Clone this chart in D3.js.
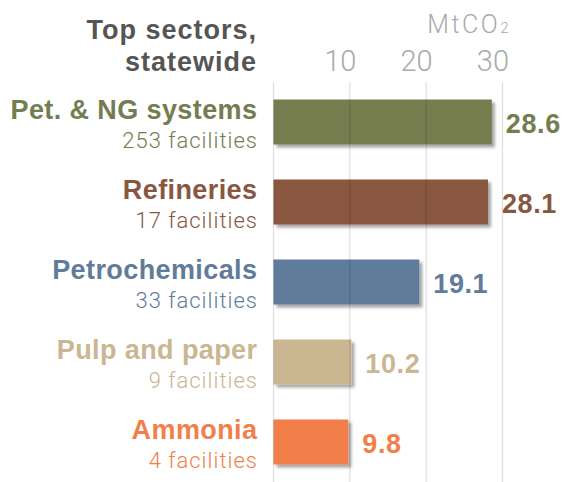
<!DOCTYPE html>
<html>
<head>
<meta charset="utf-8">
<script src="https://cdn.jsdelivr.net/npm/d3@7"></script>
<style>
  html, body { margin: 0; padding: 0; background: #fff; }
  svg { display: block; }
  .bold { font-family: "Liberation Sans", Arial, Helvetica, sans-serif; font-weight: bold; }
  .light { font-family: Roboto, "Liberation Sans", Arial, sans-serif; font-weight: 300; }
</style>
</head>
<body>
<svg id="chart" width="569" height="482"></svg>
<script>
// Top emitting sectors statewide, million tonnes CO2
const sectors    = ["Pet. & NG systems", "Refineries", "Petrochemicals", "Pulp and paper", "Ammonia"];
const facilities = [253, 17, 33, 9, 4];
const emissions  = [28.6, 28.1, 19.1, 10.2, 9.8];
const colors     = ["#747d50", "#895641", "#617b9b", "#cbb692", "#f27f4a"];
const tickValues = [10, 20, 30];

const rows = sectors.map((name, i) => ({
  name, count: facilities[i], value: emissions[i], color: colors[i]
}));

const svg = d3.select("#chart");

const x = d3.scaleLinear().domain([0, 30]).range([273.5, 502.5]);
const y = d3.scaleBand().domain(sectors).range([99.5, 464.5]).paddingInner(0.4375).paddingOuter(0);

// soft shadow under each bar
const defs = svg.append("defs");
defs.append("filter")
    .attr("id", "barShadow")
    .attr("x", "-10%").attr("y", "-20%").attr("width", "130%").attr("height", "160%")
  .append("feDropShadow")
    .attr("dx", 3).attr("dy", 3).attr("stdDeviation", 1.6)
    .attr("flood-color", "#000").attr("flood-opacity", 0.35);

// title
const title = svg.append("text")
  .attr("class", "bold")
  .attr("text-anchor", "end")
  .attr("fill", "#555")
  .attr("font-size", 27)
  .attr("letter-spacing", 1);
title.append("tspan").attr("x", 257).attr("y", 39).text("Top sectors,");
title.append("tspan").attr("x", 257).attr("y", 70.5).text("statewide");

// unit label
const unit = svg.append("text")
  .attr("class", "light")
  .attr("x", 511).attr("y", 33)
  .attr("text-anchor", "end")
  .attr("fill", "#aaa")
  .attr("font-size", 25)
  .attr("letter-spacing", 2.5);
unit.append("tspan").text("MtCO");
unit.append("tspan").attr("font-size", 15).text("2");

// bars
svg.append("g").selectAll("rect")
  .data(rows)
  .join("rect")
    .attr("x", x(0))
    .attr("y", d => y(d.name))
    .attr("width", d => x(d.value) - x(0))
    .attr("height", y.bandwidth())
    .attr("fill", d => d.color)
    .attr("filter", "url(#barShadow)");

// axis with tick labels above, gridlines running down over the bars
const axis = svg.append("g")
  .attr("transform", `translate(0, 71)`)
  .call(d3.axisTop(x).tickValues(tickValues).tickSize(0).tickPadding(0));
axis.select(".domain").remove();
axis.selectAll("text")
  .attr("class", "light")
  .attr("font-size", 29)
  .attr("fill", "#aaa")
  .attr("text-anchor", "end")
  .attr("dx", 6)
  .attr("dy", 0)
  .attr("y", 0);

svg.append("g").selectAll("line")
  .data([0].concat(tickValues))
  .join("line")
    .attr("x1", d => x(d)).attr("x2", d => x(d))
    .attr("y1", 82).attr("y2", 482)
    .attr("stroke", "#000")
    .attr("stroke-opacity", 0.13)
    .attr("stroke-width", 1.2);

// sector names and facility counts
const labels = svg.append("g").selectAll("g")
  .data(rows)
  .join("g")
    .attr("transform", d => `translate(257, ${y(d.name)})`);

labels.append("text")
  .attr("class", "bold")
  .attr("text-anchor", "end")
  .attr("x", 0.4)
  .attr("y", 19.5)
  .attr("font-size", 27)
  .attr("letter-spacing", 0.4)
  .attr("fill", d => d.color)
  .text(d => d.name);

labels.append("text")
  .attr("class", "light")
  .attr("text-anchor", "end")
  .attr("x", 1)
  .attr("y", 48)
  .attr("font-size", 22)
  .attr("letter-spacing", 1)
  .attr("fill", d => d.color)
  .text(d => `${d.count} facilities`);

// value labels
svg.append("g").selectAll("text")
  .data(rows)
  .join("text")
    .attr("class", "bold")
    .attr("x", d => x(d.value) + 14)
    .attr("y", d => y(d.name) + 33.5)
    .attr("font-size", 27)
    .attr("letter-spacing", 0.6)
    .attr("fill", d => d.color)
    .text(d => d.value.toFixed(1));
</script>
</body>
</html>
